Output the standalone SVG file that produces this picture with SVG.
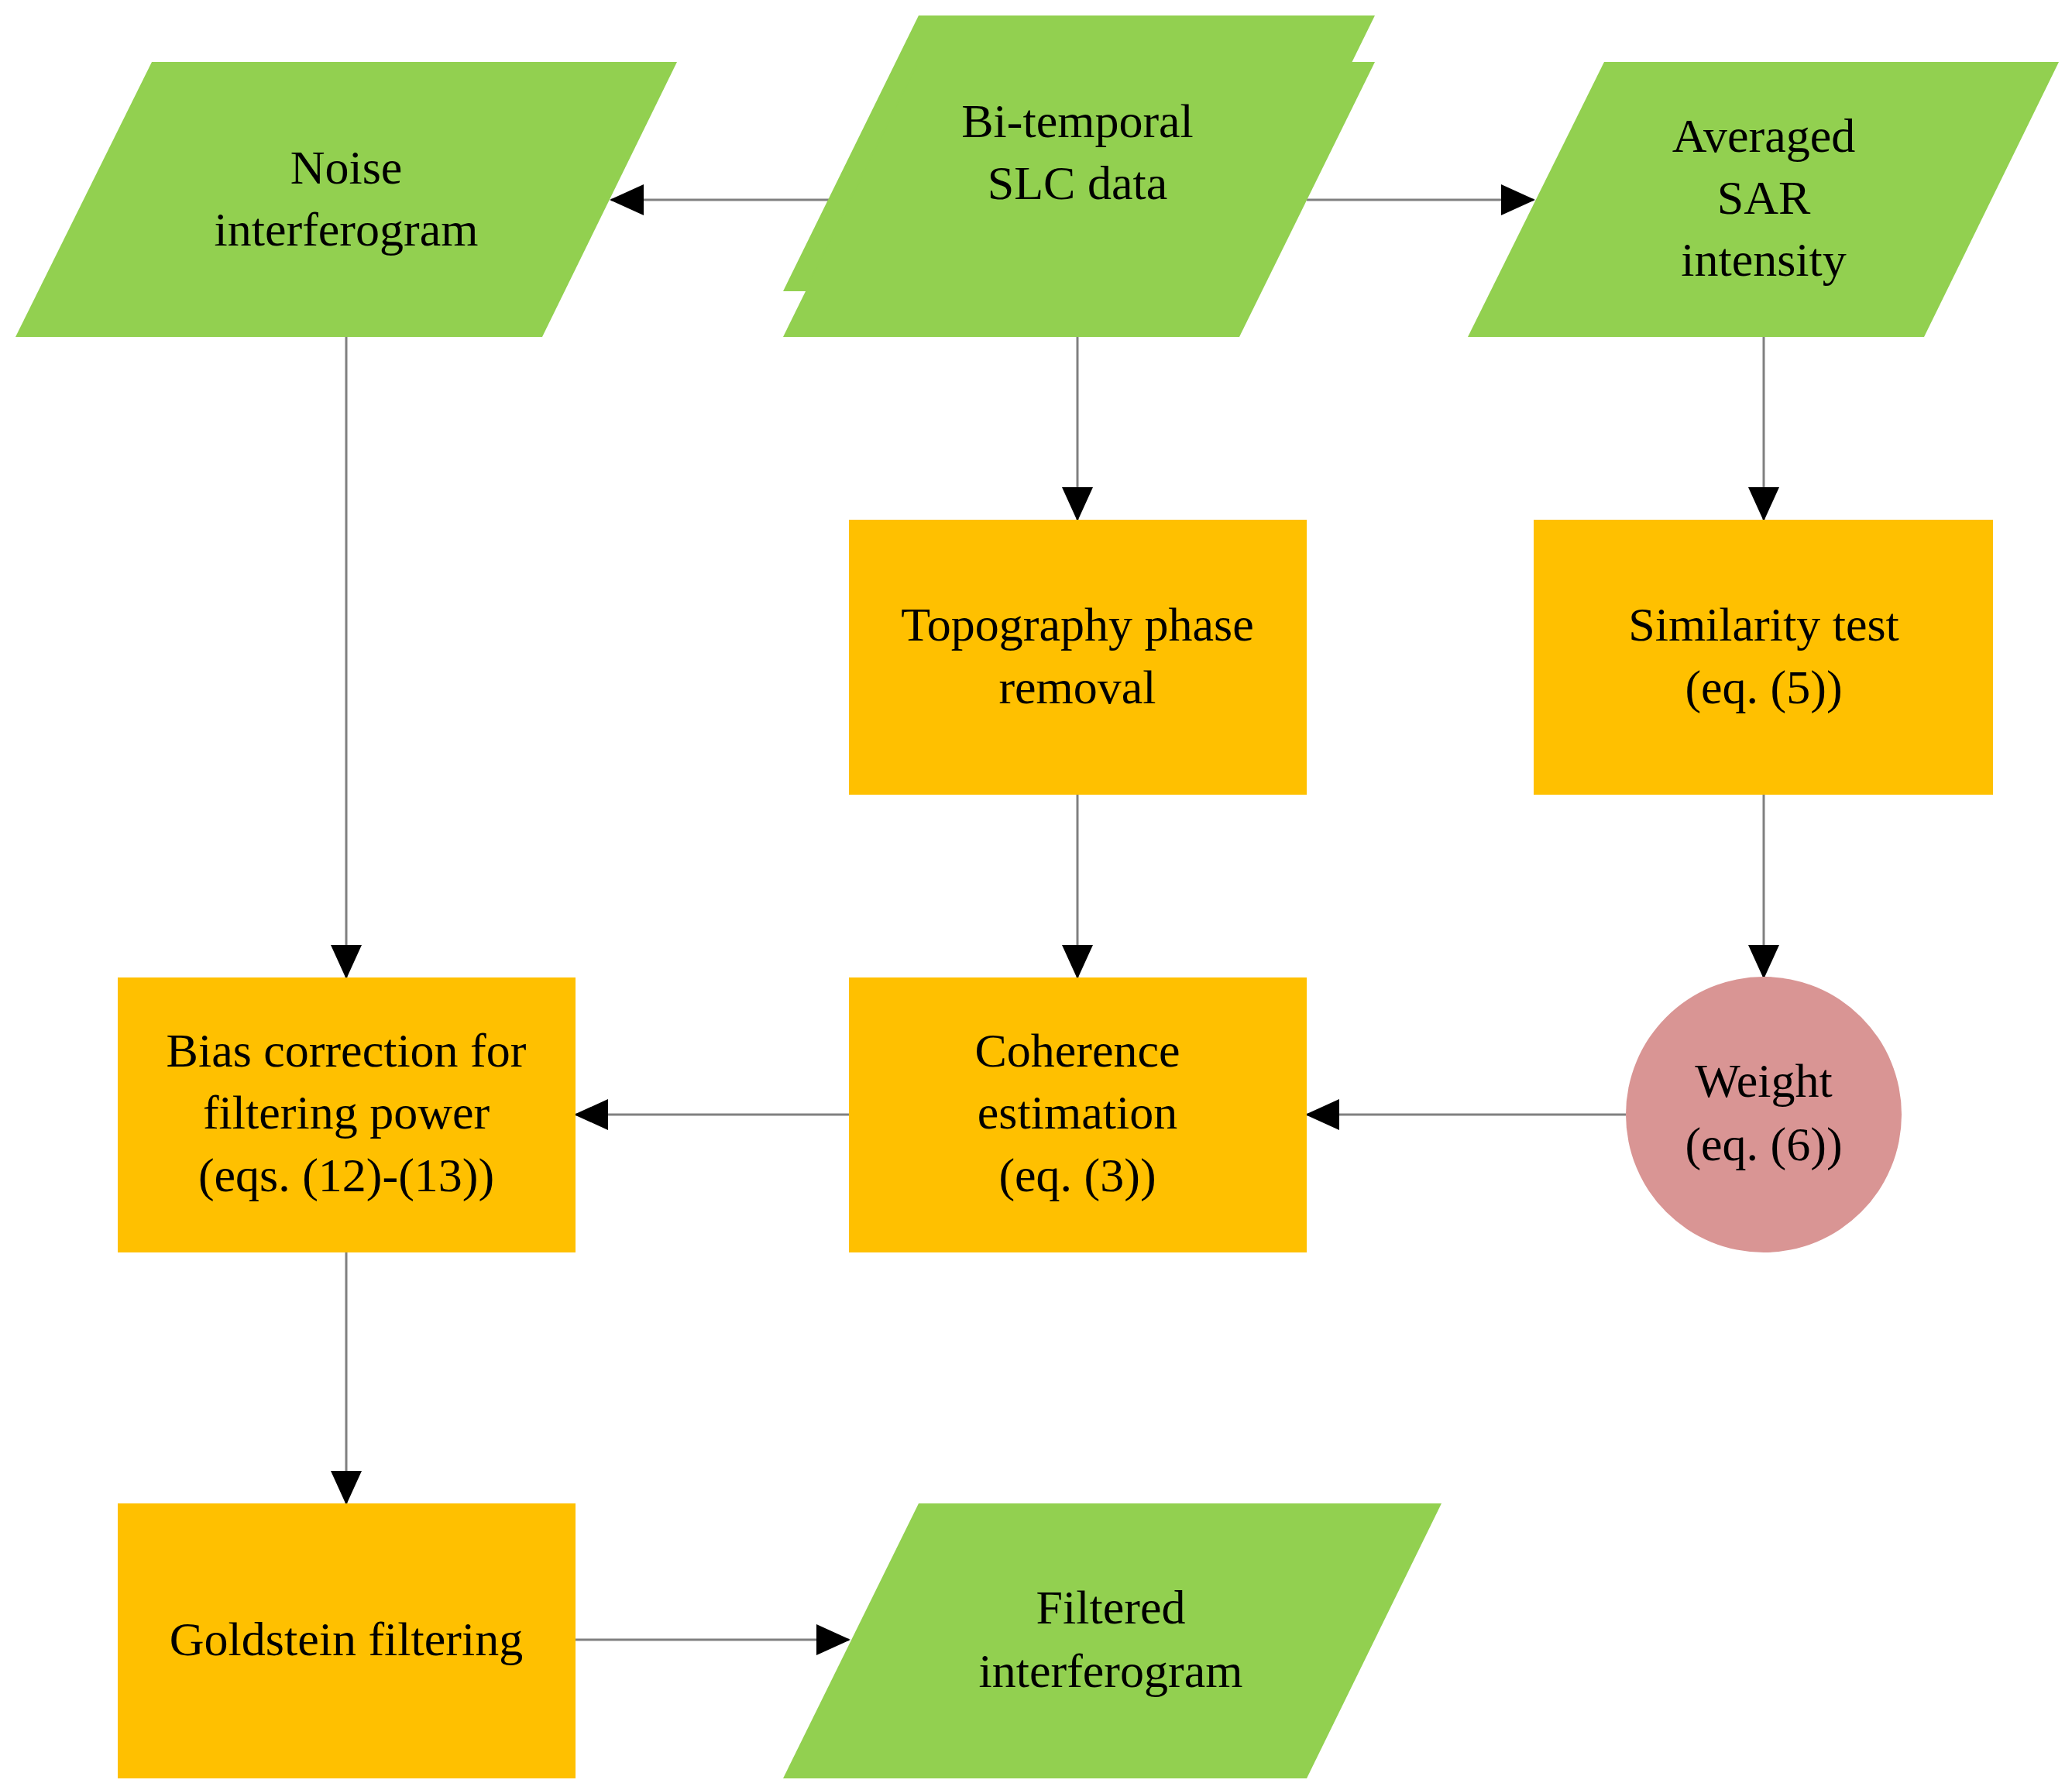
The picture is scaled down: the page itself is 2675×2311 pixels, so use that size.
<svg xmlns="http://www.w3.org/2000/svg" width="2675" height="2311" viewBox="0 0 2675 2311">
<style>
.g{fill:#92d050}.o{fill:#ffc000}.w{fill:#d99594}
text{font-family:"Liberation Serif","Times New Roman",serif;font-size:62px;fill:#000;text-anchor:middle}
.c line{stroke:#808080;stroke-width:3}
</style>
<defs><marker id="a" markerUnits="userSpaceOnUse" markerWidth="44" markerHeight="40" refX="42" refY="20" orient="auto"><path d="M0,0L44,20L0,40z" fill="#000"/></marker></defs>
<rect width="2675" height="2311" fill="#fff"/>
<g class="c">
<line x1="1096" y1="258" x2="789" y2="258" marker-end="url(#a)"/>
<line x1="1687" y1="258" x2="1980" y2="258" marker-end="url(#a)"/>
<line x1="1391" y1="435" x2="1391" y2="671" marker-end="url(#a)"/>
<line x1="2277" y1="435" x2="2277" y2="671" marker-end="url(#a)"/>
<line x1="1391" y1="1026" x2="1391" y2="1262" marker-end="url(#a)"/>
<line x1="2277" y1="1026" x2="2277" y2="1262" marker-end="url(#a)"/>
<line x1="447" y1="435" x2="447" y2="1262" marker-end="url(#a)"/>
<line x1="2099" y1="1439" x2="1687" y2="1439" marker-end="url(#a)"/>
<line x1="1096" y1="1439" x2="743" y2="1439" marker-end="url(#a)"/>
<line x1="447" y1="1617" x2="447" y2="1941" marker-end="url(#a)"/>
<line x1="743" y1="2117" x2="1096" y2="2117" marker-end="url(#a)"/>
</g>
<g id="noise"><polygon class="g" points="196,80 874,80 700,435 20,435"/><text x="447" y="237">Noise</text><text x="447" y="317">interferogram</text></g>
<g id="bitemporal"><polygon class="g" points="1186,20 1775,20 1600,376 1011,376"/><polygon class="g" points="1186,80 1775,80 1600,435 1011,435"/><text x="1391" y="177">Bi-temporal</text><text x="1391" y="257">SLC data</text></g>
<g id="averaged"><polygon class="g" points="2071,80 2658,80 2484,435 1895,435"/><text x="2277" y="196">Averaged</text><text x="2277" y="276">SAR</text><text x="2277" y="356">intensity</text></g>
<g id="topo"><rect class="o" x="1096" y="671" width="591" height="355"/><text x="1391" y="827">Topography phase</text><text x="1391" y="908">removal</text></g>
<g id="similarity"><rect class="o" x="1980" y="671" width="593" height="355"/><text x="2277" y="827">Similarity test</text><text x="2277" y="908">(eq. (5))</text></g>
<g id="bias"><rect class="o" x="152" y="1262" width="591" height="355"/><text x="447" y="1377">Bias correction for</text><text x="447" y="1457">filtering power</text><text x="447" y="1538">(eqs. (12)-(13))</text></g>
<g id="coherence"><rect class="o" x="1096" y="1262" width="591" height="355"/><text x="1391" y="1377">Coherence</text><text x="1391" y="1457">estimation</text><text x="1391" y="1538">(eq. (3))</text></g>
<g id="weight"><circle class="w" cx="2277" cy="1439" r="178"/><text x="2277" y="1416">Weight</text><text x="2277" y="1498">(eq. (6))</text></g>
<g id="goldstein"><rect class="o" x="152" y="1941" width="591" height="355"/><text x="447" y="2137">Goldstein filtering</text></g>
<g id="filtered"><polygon class="g" points="1186,1941 1861,1941 1687,2296 1011,2296"/><text x="1434" y="2096">Filtered</text><text x="1434" y="2178">interferogram</text></g>
</svg>
